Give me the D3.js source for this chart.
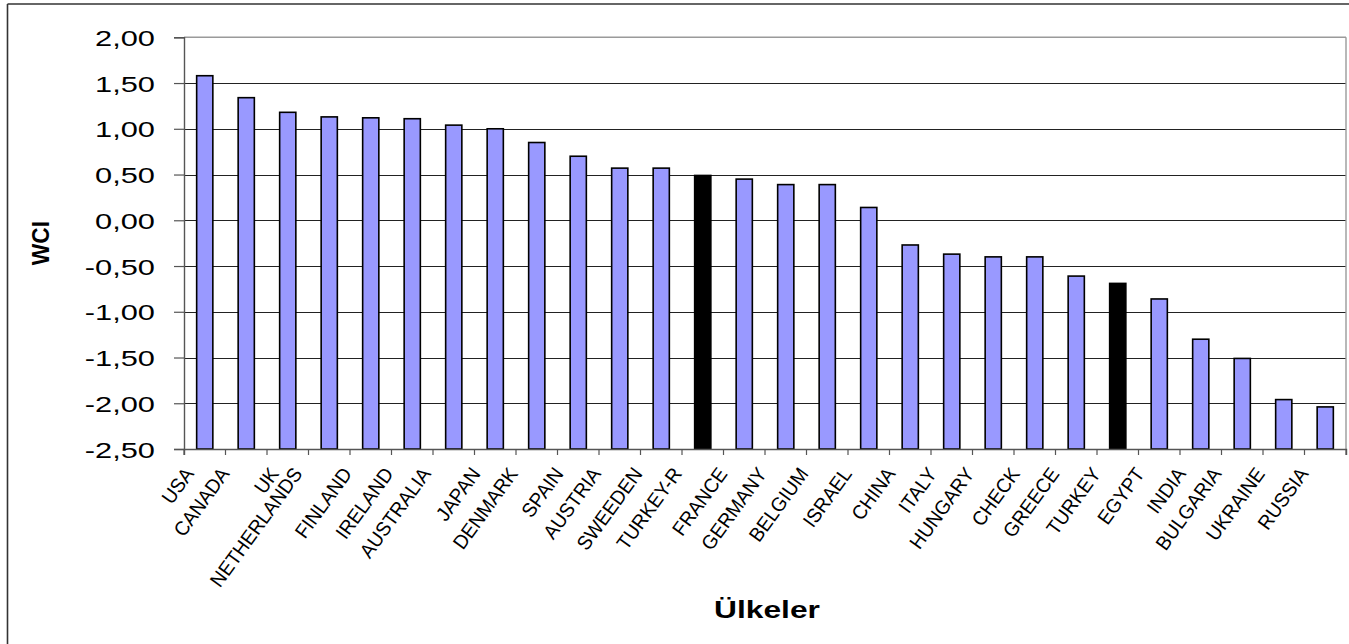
<!DOCTYPE html>
<html>
<head>
<meta charset="utf-8">
<script src="https://cdn.jsdelivr.net/npm/d3@7"></script>
<style>
  html, body { margin: 0; padding: 0; background: #fff; }
  svg { display: block; }
  text { font-family: Arial, "Liberation Sans", sans-serif; fill: #000; }
</style>
</head>
<body>
<svg id="chart" width="1349" height="644"></svg>
<script>
const categories = ["USA","CANADA","UK","NETHERLANDS","FINLAND","IRELAND","AUSTRALIA","JAPAN","DENMARK","SPAIN","AUSTRIA","SWEEDEN","TURKEY-R","FRANCE","GERMANY","BELGIUM","ISRAEL","CHINA","ITALY","HUNGARY","CHECK","GREECE","TURKEY","EGYPT","INDIA","BULGARIA","UKRAINE","RUSSIA"];
const values = [1.58,1.34,1.18,1.13,1.12,1.11,1.04,1.00,0.85,0.70,0.57,0.57,0.49,0.45,0.39,0.39,0.14,-0.27,-0.37,-0.40,-0.40,-0.61,-0.69,-0.86,-1.30,-1.51,-1.96,-2.04];
const highlighted = ["TURKEY-R","TURKEY"];
const yTicks = [2.00,1.50,1.00,0.50,0.00,-0.50,-1.00,-1.50,-2.00,-2.50];
const yTitle = "WCI";
const xTitle = "Ülkeler";

(function () {
const svg = d3.select("#chart");
const pL = 184, pR = 1346, pT = 37.3, pB = 449;

const x = d3.scaleBand().domain(categories).range([pL, pR]).paddingInner(0.61).paddingOuter(0.305);
const xb = d3.scaleBand().domain(categories).range([pL, pR]);
const y = d3.scaleLinear().domain([-2.5, 2]).range([pB, pT]);

// outer frame (top & left visible)
svg.append("line").attr("x1", 7.5).attr("x2", 1349).attr("y1", 4).attr("y2", 4).attr("stroke", "#333").attr("stroke-width", 1.6);
svg.append("line").attr("x1", 7.5).attr("x2", 7.5).attr("y1", 4).attr("y2", 644).attr("stroke", "#333").attr("stroke-width", 1.6);

// gridlines
svg.append("g").selectAll("line").data(yTicks.filter(d => d !== 2 && d !== -2.5)).join("line")
  .attr("x1", pL).attr("x2", pR)
  .attr("y1", d => Math.round(y(d)) + 0.5).attr("y2", d => Math.round(y(d)) + 0.5)
  .attr("stroke", "#222").attr("stroke-width", 1.2);

// plot-area border top/right
svg.append("line").attr("x1", pL).attr("x2", pR).attr("y1", pT).attr("y2", pT).attr("stroke", "#9a9a9a").attr("stroke-width", 1.4);
svg.append("line").attr("x1", pR).attr("x2", pR).attr("y1", pT).attr("y2", pB).attr("stroke", "#9a9a9a").attr("stroke-width", 1.4);

// bars (from the axis floor)
svg.append("g").selectAll("rect").data(categories).join("rect")
  .attr("x", d => x(d))
  .attr("width", x.bandwidth())
  .attr("y", (d, i) => y(values[i]))
  .attr("height", (d, i) => y(-2.5) - y(values[i]))
  .attr("fill", d => highlighted.includes(d) ? "#000" : "#9999ff")
  .attr("stroke", "#000").attr("stroke-width", 1.6);

// y axis
const yAxis = d3.axisLeft(y).tickValues(yTicks).tickSize(10).tickFormat(d => d3.format(".2f")(d).replace(".", ",").replace("−", "-"));
const gy = svg.append("g").attr("transform", `translate(${pL},0)`).call(yAxis);
gy.select(".domain").attr("stroke", "#555").attr("stroke-width", 1.4);
gy.selectAll(".tick line").attr("stroke", "#555").attr("stroke-width", 1.2);
gy.selectAll(".tick text").each(function(d) {
  d3.select(this).attr("x", null).attr("dy", null).attr("text-anchor", "end")
   .attr("font-size", 22).attr("font-family", "Arial, 'Liberation Sans', sans-serif").attr("fill", "#000")
   .attr("transform", `translate(-29,8) scale(1.4,1)`);
});

// x axis
const xAxis = d3.axisBottom(xb).tickSize(6).tickFormat("");
const gx = svg.append("g").attr("transform", `translate(0,${pB})`).call(xAxis);
gx.select(".domain").attr("stroke", "#555").attr("stroke-width", 1.4);
gx.selectAll(".tick").attr("transform", d => `translate(${xb(d)},0)`);
gx.selectAll(".tick line").attr("stroke", "#555").attr("stroke-width", 1.2);
gx.append("line").attr("x1", pR).attr("x2", pR).attr("y1", 0).attr("y2", 6).attr("stroke", "#555").attr("stroke-width", 1.2);

// category labels
svg.append("g").selectAll("text").data(categories).join("text")
  .attr("text-anchor", "end")
  .attr("font-size", 20)
  .attr("transform", d => {
    const cx = xb(d) + xb.bandwidth() / 2;
    const ax = cx - (4 + 2 * d.length);
    return `translate(${ax},474) rotate(-54) scale(0.95,1)`;
  })
  .text(d => d);

// axis titles
svg.append("text").attr("text-anchor", "middle").attr("font-weight", "bold").attr("font-size", 23)
  .attr("transform", `translate(767,618) scale(1.38,1)`).text(xTitle);
svg.append("text").attr("text-anchor", "middle").attr("font-weight", "bold").attr("font-size", 24)
  .attr("transform", `translate(49,243) rotate(-90) scale(0.95,1)`).text(yTitle);
})();
</script>
</body>
</html>
